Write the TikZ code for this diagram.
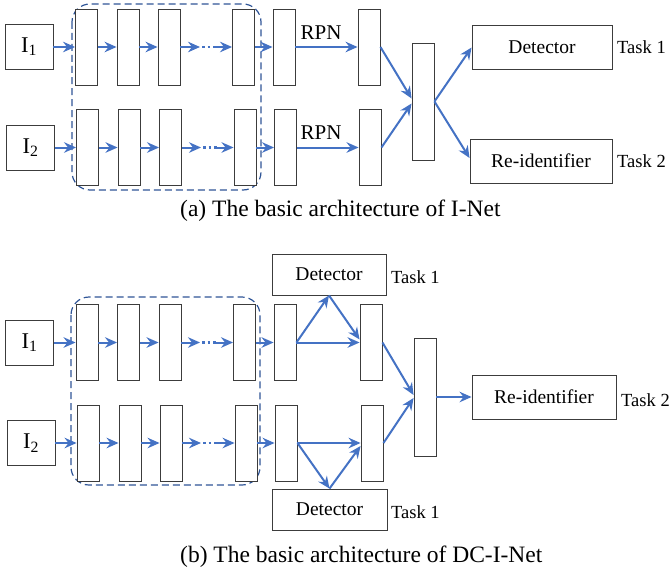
\documentclass[tikz,border=0pt]{standalone}
\usepackage{fontspec}
\setmainfont{Liberation Serif}
\usetikzlibrary{arrows.meta}

\definecolor{flowblue}{RGB}{68,114,196}
\definecolor{frameblue}{RGB}{47,85,151}
\definecolor{boxgray}{RGB}{60,60,60}

\tikzset{
    layer/.style={rectangle, draw=boxgray, fill=white, line width=0.9pt, minimum width=22pt, minimum height=76pt, inner sep=0pt},
    inbox/.style={rectangle, draw=boxgray, line width=0.9pt, minimum width=48pt, minimum height=45pt, inner sep=0pt, font=\fontsize{22.5}{26}\selectfont},
    headbox/.style={rectangle, draw=boxgray, line width=0.9pt, minimum height=44pt, inner sep=0pt, font=\fontsize{19.5}{22}\selectfont},
    flow/.style={draw=flowblue, line width=2pt, -{Stealth[length=12pt,width=10.5pt,inset=4pt]}},
    dots/.style={draw=flowblue, line width=2.4pt, dash pattern=on 2.5pt off 3pt},
    shared/.style={draw=frameblue, line width=1.2pt, dash pattern=on 7pt off 4pt, rounded corners=18pt},
    tasklabel/.style={anchor=west, inner sep=0pt, font=\fontsize{18.5}{21}\selectfont},
    rpnlabel/.style={inner sep=0pt, font=\fontsize{21}{24}\selectfont},
    caption/.style={anchor=west, inner sep=0pt, font=\fontsize{23.5}{27}\selectfont}
}

\begin{document}
\begin{tikzpicture}[x=1pt, y=-1pt]
    \useasboundingbox (0,0) rectangle (669,578);

    % (a) I-Net
    \draw[shared] (72,4) rectangle (261,190);

    \node[inbox] (ai1) at (29,47) {I\textsubscript{1}};
    \node[inbox] (ai2) at (30.5,147.5) {I\textsubscript{2}};

    \begin{scope}[every node/.style={layer}]
        \node (a11) at (86.5,47) {};
        \node (a12) at (128,47) {};
        \node (a13) at (169,47) {};
        \node (a14) at (243.5,47) {};
        \node (a15) at (284,47) {};
        \node (a16) at (369,47) {};

        \node (a21) at (87.5,147.5) {};
        \node (a22) at (129,147.5) {};
        \node (a23) at (170.5,147.5) {};
        \node (a24) at (245,147.5) {};
        \node (a25) at (285.5,147.5) {};
        \node (a26) at (370,147.5) {};

        \node[minimum height=117pt] (am) at (423,101.5) {};
    \end{scope}

    \node[headbox, minimum width=140pt] (adet) at (542,47.5) {Detector};
    \node[headbox, minimum width=142pt] (areid) at (541,161) {Re-identifier};

    \coordinate (a1d) at (200,47);
    \coordinate (a1e) at (216,47);
    \coordinate (a2d) at (201,147.5);
    \coordinate (a2e) at (217,147.5);

    \begin{scope}[every edge/.style={flow}]
        \path (ai1) edge (a11);
        \path (a11) edge (a12);
        \path (a12) edge (a13);
        \path (a13) edge (a1d);
        \path (a1e) edge (a14);
        \path (a14) edge (a15);
        \path (a15) edge (a16);

        \path (ai2) edge (a21);
        \path (a21) edge (a22);
        \path (a22) edge (a23);
        \path (a23) edge (a2d);
        \path (a2e) edge (a24);
        \path (a24) edge (a25);
        \path (a25) edge (a26);

        \path (a16.east) edge ([yshift=3pt]am.west);
        \path (a26.east) edge ([yshift=-2pt]am.west);
        \path (am.east) edge (adet.west);
        \path (am.east) edge ([yshift=3pt]areid.west);
    \end{scope}
    \draw[dots] ([xshift=2pt]a1d) -- (a1e);
    \draw[dots] ([xshift=2pt]a2d) -- (a2e);

    \node[rpnlabel] (arpn1) at (321,33) {RPN};
    \node[rpnlabel] (arpn2) at (321,133) {RPN};

    \node[tasklabel] (atask1) at (617,47) {Task 1};
    \node[tasklabel] (atask2) at (617,161) {Task 2};

    \node[caption] (acap) at (180,211) {(a) The basic architecture of I-Net};

    % (b) DC-I-Net
    \draw[shared] (71,297) rectangle (260,485);

    \node[inbox] (bi1) at (29.5,342.5) {I\textsubscript{1}};
    \node[inbox] (bi2) at (31,443) {I\textsubscript{2}};

    \begin{scope}[every node/.style={layer}]
        \node (b11) at (87,342.5) {};
        \node (b12) at (128.5,342.5) {};
        \node (b13) at (170,342.5) {};
        \node (b14) at (244.5,342.5) {};
        \node (b15) at (285,342.5) {};
        \node (b16) at (371,342.5) {};

        \node (b21) at (88,443) {};
        \node (b22) at (130,443) {};
        \node (b23) at (171,443) {};
        \node (b24) at (246,443) {};
        \node (b25) at (286,443) {};
        \node (b26) at (372,443) {};

        \node[minimum height=118pt] (bm) at (425,397) {};
    \end{scope}

    \node[headbox, minimum width=114pt, minimum height=41pt] (bdt) at (329,274.5) {Detector};
    \node[headbox, minimum width=115pt, minimum height=41pt] (bdb) at (329.5,509.5) {Detector};
    \node[headbox, minimum width=144pt] (breid) at (544,397) {Re-identifier};

    \coordinate (b1d) at (200,342.5);
    \coordinate (b1e) at (216,342.5);
    \coordinate (b2d) at (201,443);
    \coordinate (b2e) at (217,443);

    \begin{scope}[every edge/.style={flow}]
        \path (bi1) edge (b11);
        \path (b11) edge (b12);
        \path (b12) edge (b13);
        \path (b13) edge (b1d);
        \path (b1e) edge (b14);
        \path (b14) edge (b15);

        \path (bi2) edge (b21);
        \path (b21) edge (b22);
        \path (b22) edge (b23);
        \path (b23) edge (b2d);
        \path (b2e) edge (b24);
        \path (b24) edge (b25);

        \path (b15.east) edge (b16.west);
        \path (b15.east) edge (bdt.south);
        \path (bdt.south) edge ([yshift=3pt]b16.west);
        \path (b25.east) edge (b26.west);
        \path (b25.east) edge (bdb.north);
        \path (bdb.north) edge ([yshift=-3pt]b26.west);

        \path (b16.east) edge ([yshift=2pt]bm.west);
        \path (b26.east) edge ([yshift=-1pt]bm.west);
        \path (bm.east) edge (breid.west);
    \end{scope}
    \draw[dots] ([xshift=2pt]b1d) -- (b1e);
    \draw[dots] ([xshift=2pt]b2d) -- (b2e);

    \node[tasklabel] (btask1) at (391,277) {Task 1};
    \node[tasklabel] (btask3) at (391,512) {Task 1};
    \node[tasklabel] (btask2) at (621,400) {Task 2};

    \node[caption] (bcap) at (180,557) {(b) The basic architecture of DC-I-Net};
\end{tikzpicture}
\end{document}
